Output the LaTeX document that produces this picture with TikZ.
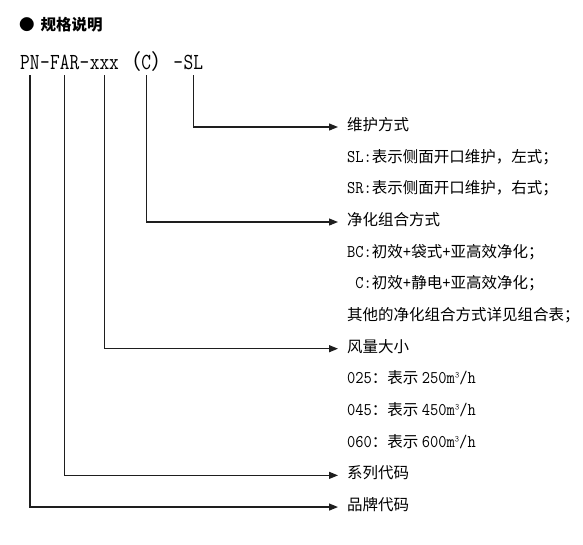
\documentclass[tikz,border=0pt]{standalone}
\usepackage{fontspec}
\setmainfont{Noto Sans CJK SC}
\newfontfamily\zhfamily{Noto Sans CJK SC}
\newfontfamily\codefamily[FakeStretch=0.82]{Latin Modern Mono}
\newfontfamily\latfont[Scale=1.15,FakeStretch=0.9]{Latin Modern Mono}
\usetikzlibrary{arrows.meta,positioning}
\definecolor{lineblack}{RGB}{30,30,30}

\begin{document}
\begin{tikzpicture}[x=1pt,y=-1pt,
    every node/.style={text=black},
    codepart/.style={inner xsep=0pt,inner ysep=6pt,text depth=0pt,
                     font=\fontsize{23}{23}\selectfont\codefamily},
    lbl/.style={anchor=west,inner xsep=9pt,inner ysep=0pt,
                text height=0.8em,text depth=0.1em,
                font=\fontsize{15.5}{15.5}\selectfont},
    link/.style={line width=1.2pt,draw=lineblack,
                 -{Triangle[length=9pt,width=7pt]}}]
  \useasboundingbox (0,0) rectangle (583,544);

  %% Title
  \node[anchor=west,inner sep=0pt,font=\fontsize{15.5}{15.5}\selectfont\bfseries]
        (title) at (19,25) {●\hspace{6pt}规格说明};

  %% Model code, split in parts
  \node[codepart,anchor=base west] (pn) at (20,69) {PN};
  \node[codepart,base right=0pt of pn] (d1) {-};
  \node[codepart,base right=0pt of d1] (far) {FAR};
  \node[codepart,base right=0pt of far] (d2) {-};
  \node[codepart,base right=0pt of d2] (xxx) {xxx};
  \node[codepart,base right=1pt of xxx] (cc)
        {{\zhfamily\fontsize{21}{21}\selectfont （}C{\zhfamily\fontsize{21}{21}\selectfont ）}};
  \node[codepart,base right=1pt of cc] (d3) {-};
  \node[codepart,base right=0pt of d3] (sl) {SL};

  %% Explanation lines
  \foreach \txt [count=\i] in {
      维护方式,
      {\latfont SL:}表示侧面开口维护，左式；,
      {\latfont SR:}表示侧面开口维护，右式；,
      净化组合方式,
      {\latfont BC:}初效{\latfont +}袋式{\latfont +}亚高效净化；,
      {\latfont\ C:}初效{\latfont +}静电{\latfont +}亚高效净化；,
      其他的净化组合方式详见组合表；,
      风量大小,
      {\latfont 025}：表示 {\latfont 250m\hspace{-2pt}³\hspace{-2pt}/h},
      {\latfont 045}：表示 {\latfont 450m\hspace{-2pt}³\hspace{-2pt}/h},
      {\latfont 060}：表示 {\latfont 600m\hspace{-2pt}³\hspace{-2pt}/h},
      系列代码,
      品牌代码}
    \node[lbl] (l\i) at (338,{127+31.67*(\i-1)}) {\txt};

  %% Connectors
  \draw[link] (sl.south) |- (l1.west);
  \draw[link] (cc.south) |- (l4.west);
  \draw[link] (xxx.south) |- (l8.west);
  \draw[link] (far.south) |- (l12.west);
  \draw[link] (pn.south) |- (l13.west);
\end{tikzpicture}
\end{document}
